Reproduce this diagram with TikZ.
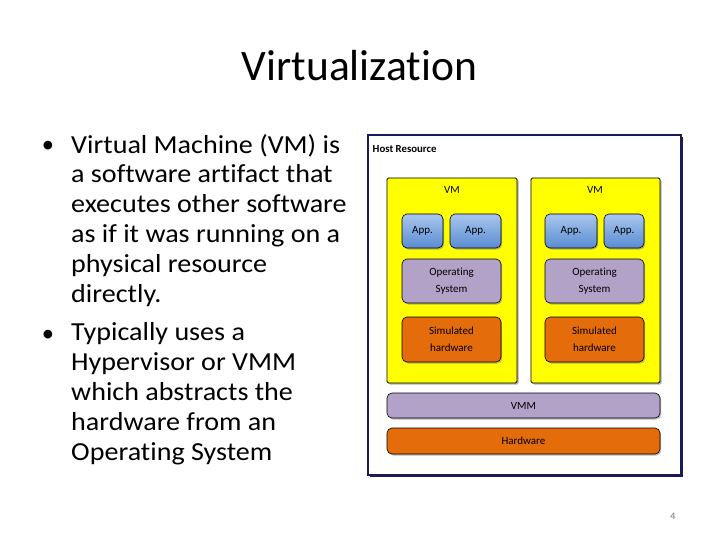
\documentclass[tikz,border=0pt]{standalone}
\usepackage{fontspec}
\setmainfont[Ligatures=NoCommon]{Carlito}
\newfontfamily\bodyfont[FakeStretch=1.08,Ligatures=NoCommon]{Carlito}
\usetikzlibrary{shadows}
\definecolor{appTop}{HTML}{A9C6EE}
\definecolor{appBot}{HTML}{5A8CD2}
\definecolor{osc}{HTML}{B3A2C7}
\definecolor{hwc}{HTML}{E46C0A}
\definecolor{vmy}{HTML}{FFFF00}
\definecolor{framec}{HTML}{1A1A5A}
\tikzset{
  box/.style={draw=black, line width=0.6pt, rounded corners=5pt, align=center,
    font=\fontsize{11}{17}\selectfont, inner sep=0pt,
    drop shadow={opacity=0.55, shadow xshift=1.2pt, shadow yshift=-1.5pt}},
  appbox/.style={box, top color=appTop, bottom color=appBot, minimum height=34pt},
  osbox/.style={box, fill=osc},
  hwbox/.style={box, fill=hwc},
  vmbox/.style={draw=black, line width=0.8pt, fill=vmy, rounded corners=1.5pt,
    minimum width=#1, minimum height=205pt, inner sep=0pt,
    drop shadow={opacity=0.6, shadow xshift=1.5pt, shadow yshift=-1.5pt}},
  bodytext/.style={anchor=base west, align=left, inner sep=0pt,
    font=\bodyfont\fontsize{26}{29.8}\selectfont},
  bulletmark/.style={anchor=base, inner sep=0pt, font=\fontsize{24.5}{29.8}\selectfont}
}
\begin{document}
\begin{tikzpicture}[x=1pt,y=-1pt]
\useasboundingbox (0,0) rectangle (720,540);
% title
\node[anchor=base, inner sep=0pt, font=\fontsize{43.5}{50}\selectfont] (title) at (359.5,81) {Virtualization};
% bullets (anchored at the baseline of their last line)
\node[bulletmark] (b1) at (48,153) {\textbullet};
\node[bodytext] (t1) at (71,302) {Virtual Machine (VM) is\\a software artifact that\\executes other software\\as if it was running on a\\physical resource\\directly.};
\node[bulletmark] (b2) at (48,341) {\textbullet};
\node[bodytext] (t2) at (71,460) {Typically uses a\\Hypervisor or VMM\\which abstracts the\\hardware from an\\Operating System};
% page number
\node[anchor=base, inner sep=0pt, text=black!55, font=\fontsize{10}{12}\selectfont] (pg) at (673,519) {4};
% frame
\fill[framec] (370,137) rectangle (683,477);
\node[draw=framec, line width=1.5pt, fill=white, minimum width=313pt, minimum height=340pt, inner sep=0pt] (host) at (524.5,305) {};
\node[anchor=west, inner sep=0pt, font=\bfseries\fontsize{10.8}{12}\selectfont] (hostlbl) at (372.5,149) {Host Resource};
% VMs
\node[vmbox=130pt] (vm1) at (452,280.5) {};
\node[vmbox=129pt] (vm2) at (595.5,280.5) {};
\node[font=\fontsize{11}{13}\selectfont, inner sep=0pt] (vm1l) at (452,190) {VM};
\node[font=\fontsize{11}{13}\selectfont, inner sep=0pt] (vm2l) at (595,190) {VM};
% apps
\node[appbox, minimum width=41pt] (a11) at (422.5,231) {App.};
\node[appbox, minimum width=51pt] (a12) at (475.5,231) {App.};
\node[appbox, minimum width=52pt] (a21) at (571,231) {App.};
\node[appbox, minimum width=40pt] (a22) at (624,231) {App.};
% OS
\node[osbox, minimum width=99pt, minimum height=44pt] (os1) at (451.5,281) {Operating\\System};
\node[osbox, minimum width=99pt, minimum height=44pt] (os2) at (594.5,281) {Operating\\System};
% simulated hardware
\node[hwbox, minimum width=99pt, minimum height=45pt] (sh1) at (451.5,339.5) {Simulated\\hardware};
\node[hwbox, minimum width=99pt, minimum height=45pt] (sh2) at (594.5,339.5) {Simulated\\hardware};
% VMM and hardware
\node[osbox, minimum width=273pt, minimum height=25pt] (vmm) at (523.5,405.5) {VMM};
\node[hwbox, minimum width=273pt, minimum height=26pt] (hw) at (523.5,441) {Hardware};
\end{tikzpicture}
\end{document}
